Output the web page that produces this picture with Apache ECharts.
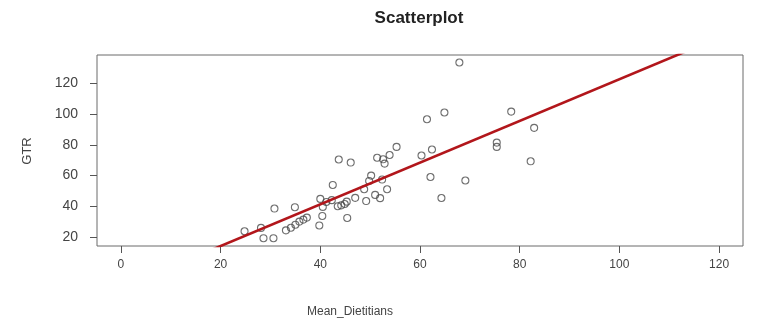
<!DOCTYPE html>
<html>
<head>
<meta charset="utf-8">
<script src="https://cdn.jsdelivr.net/npm/echarts@6/dist/echarts.min.js"></script>
<style>html,body{margin:0;padding:0;background:#fff}#c{width:762px;height:326px}</style>
</head>
<body>
<div id="c"></div>
<script>
const meanDietitians = [24.8,28.1,28.6,30.6,30.8,33.1,34.1,34.9,35.0,35.8,36.6,37.3,39.8,40.0,40.4,40.5,41.2,42.3,42.5,43.5,43.7,44.2,44.9,45.3,45.4,46.1,47.0,48.8,49.2,49.8,50.2,51.0,51.4,52.0,52.4,52.6,52.9,53.4,53.9,55.3,60.3,61.4,62.1,62.4,64.3,64.9,67.9,69.1,75.4,75.4,78.3,82.2,82.9];
const gtr = [23.7,25.9,19.2,19.2,38.5,24.3,26.0,39.4,28.0,30.0,31.3,32.6,27.5,44.8,33.7,39.6,42.8,44.0,53.9,40.0,70.5,40.6,41.5,43.0,32.4,68.5,45.5,51.1,43.4,56.5,60.0,47.4,71.6,45.3,57.4,70.6,67.8,51.1,73.4,78.7,73.1,96.7,59.1,77.0,45.4,101.1,133.7,56.8,81.5,78.7,101.7,69.3,91.1];
const xTicks = [0,20,40,60,80,100,120];
const yTicks = [20,40,60,80,100,120];
const fitIntercept = -13.1;
const fitSlope = 1.359;
const xRange = [-4.8,124.8];
const yRange = [14.1,138.6];

const points = meanDietitians.map((x,i)=>[x,gtr[i]]);
const fitLine = xRange.map(x=>[x, fitIntercept + fitSlope*x]);

const chart = echarts.init(document.getElementById('c'), null, {renderer:'canvas'});
const font = 'Liberation Sans, Arial, sans-serif';
chart.setOption({
  animation:false,
  backgroundColor:'#fff',
  grid:{left:97,right:19,top:55,bottom:80,show:true,borderColor:'#6a6a6a',borderWidth:1,backgroundColor:'transparent'},
  xAxis:{type:'value',min:xRange[0],max:xRange[1],
    splitLine:{show:false},
    axisLine:{show:false,onZero:false},
    axisTick:{show:true,customValues:xTicks,length:7,lineStyle:{color:'#555'}},
    axisLabel:{customValues:xTicks,margin:13,color:'#444',fontSize:12,fontFamily:font}},
  yAxis:{type:'value',min:yRange[0],max:yRange[1],
    splitLine:{show:false},
    axisLine:{show:false,onZero:false},
    axisTick:{show:true,customValues:yTicks,length:7,lineStyle:{color:'#555'}},
    axisLabel:{customValues:yTicks,margin:19,color:'#444',fontSize:14,fontFamily:font}},
  graphic:[
    {type:'text',style:{text:'Scatterplot',font:'bold 17px '+font,fill:'#222',x:419,y:18,textAlign:'center',textVerticalAlign:'middle'}},
    {type:'text',style:{text:'Mean_Dietitians',font:'12px '+font,fill:'#444',x:350,y:312,textAlign:'center',textVerticalAlign:'middle'}},
    {type:'text',rotation:Math.PI/2,x:27,y:151,style:{text:'GTR',font:'13px '+font,fill:'#444',x:0,y:0,textAlign:'center',textVerticalAlign:'middle'}}
  ],
  series:[
    {type:'scatter',data:points,symbol:'circle',symbolSize:7,
      itemStyle:{color:'transparent',borderColor:'#4a4a4a',borderWidth:1.1},z:3},
    {type:'line',data:fitLine,symbol:'none',clip:true,
      lineStyle:{color:'#b2161b',width:2.6},z:4}
  ]
});
</script>
</body>
</html>
